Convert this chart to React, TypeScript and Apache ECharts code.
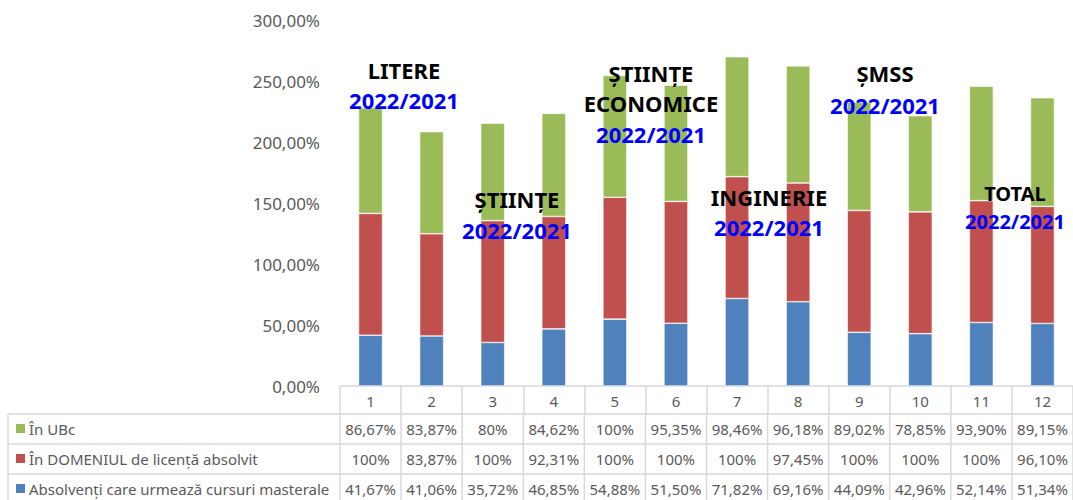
import { useEffect, useRef } from "react";
import * as echarts from "echarts";

const categories = ["1", "2", "3", "4", "5", "6", "7", "8", "9", "10", "11", "12"];
const nameMasterale = "Absolvenți care urmează cursuri masterale";
const nameDomeniu = "În DOMENIUL de licență absolvit";
const nameUbc = "În UBc";
const masterale = [41.67, 41.06, 35.72, 46.85, 54.88, 51.5, 71.82, 69.16, 44.09, 42.96, 52.14, 51.34];
const domeniu = [100, 83.87, 100, 92.31, 100, 100, 100, 97.45, 100, 100, 100, 96.1];
const ubc = [86.67, 83.87, 80, 84.62, 100, 95.35, 98.46, 96.18, 89.02, 78.85, 93.9, 89.15];
const yMin = 0;
const yMax = 300;
const yStep = 50;

const annotations = [
  { title: ["LITERE"], x: 404, titleY: [70], yearY: 100, size: 22 },
  { title: ["ȘTIINȚE"], x: 517, titleY: [199], yearY: 230, size: 22 },
  { title: ["ȘTIINȚE", "ECONOMICE"], x: 651, titleY: [73, 103], yearY: 134, size: 22 },
  { title: ["INGINERIE"], x: 769, titleY: [197], yearY: 227, size: 22 },
  { title: ["ȘMSS"], x: 885, titleY: [73], yearY: 105, size: 22 },
  { title: ["TOTAL"], x: 1015, titleY: [193], yearY: 221, size: 20 },
];
const yearText = "2022/2021";

const W = 1073;
const H = 500;
const GRID_LEFT = 340;
const GRID_TOP = 20.5;
const AXIS_Y = 386;
const TABLE_LEFT = 8;
const ROW_TOP = 414;
const ROW_H = 30;
const FONT = "'Noto Sans', 'Open Sans', sans-serif";
const GRAY = "#595959";
const LINE = "#D9D9D9";
const COLORS = { m: "#4F81BD", d: "#C0504D", u: "#9BBB59" };

function fmt(v: number) {
  return Number.isInteger(v) ? `${v}%` : `${v.toFixed(2).replace(".", ",")}%`;
}

export default function App() {
  const ref = useRef<HTMLDivElement>(null);
  useEffect(() => {
    if (!ref.current) return;
    const chart = echarts.init(ref.current, null, { renderer: "svg" });
    const colW = (W - GRID_LEFT) / categories.length;
    const rows = [
      { name: nameUbc, color: COLORS.u, values: ubc },
      { name: nameDomeniu, color: COLORS.d, values: domeniu },
      { name: nameMasterale, color: COLORS.m, values: masterale },
    ];
    const graphics: any[] = [];
    const bottom = ROW_TOP + rows.length * ROW_H;
    for (let r = 0; r <= rows.length; r++) {
      const y = ROW_TOP + r * ROW_H;
      graphics.push({
        type: "line",
        shape: { x1: TABLE_LEFT, y1: y, x2: W, y2: y },
        style: { stroke: LINE, lineWidth: 1.5 },
        silent: true,
      });
    }
    graphics.push({
      type: "line",
      shape: { x1: TABLE_LEFT, y1: ROW_TOP, x2: TABLE_LEFT, y2: bottom },
      style: { stroke: LINE, lineWidth: 1.5 },
    });
    for (let i = 0; i <= categories.length; i++) {
      const x = GRID_LEFT + i * colW;
      graphics.push({
        type: "line",
        shape: { x1: x, y1: ROW_TOP, x2: x, y2: bottom },
        style: { stroke: LINE, lineWidth: 1.5 },
      });
    }
    rows.forEach((row, r) => {
      const cy = ROW_TOP + r * ROW_H + ROW_H / 2;
      graphics.push({
        type: "rect",
        shape: { x: 16, y: cy - 5, width: 9, height: 9 },
        style: { fill: row.color },
      });
      graphics.push({
        type: "text",
        x: 29,
        y: cy,
        style: { text: row.name, fill: GRAY, font: `15px ${FONT}`, textAlign: "left", textVerticalAlign: "middle" },
      });
      row.values.forEach((v, i) => {
        graphics.push({
          type: "text",
          x: GRID_LEFT + (i + 0.5) * colW,
          y: cy,
          style: { text: fmt(v), fill: GRAY, font: `15px ${FONT}`, textAlign: "center", textVerticalAlign: "middle" },
        });
      });
    });
    annotations.forEach((a) => {
      a.title.forEach((t, k) => {
        graphics.push({
          type: "text",
          z: 100,
          x: a.x,
          y: a.titleY[k],
          style: { text: t, fill: "#000", font: `bold ${a.size}px ${FONT}`, textAlign: "center", textVerticalAlign: "middle" },
        });
      });
      graphics.push({
        type: "text",
        z: 100,
        x: a.x,
        y: a.yearY,
        style: { text: yearText, fill: "#0000FF", font: `bold ${a.size}px ${FONT}`, textAlign: "center", textVerticalAlign: "middle" },
      });
    });

    const barBase = {
      type: "bar",
      stack: "total",
      barWidth: 24,
      z: 2,
      itemStyle: { borderColor: "#ffffff", borderWidth: 0.6 },
    };
    chart.setOption({
      animation: false,
      grid: { left: GRID_LEFT, right: 0, top: GRID_TOP, bottom: H - AXIS_Y, containLabel: false },
      xAxis: {
        type: "category",
        data: categories,
        axisLine: { show: true, lineStyle: { color: LINE, width: 1.5 } },
        axisTick: { show: true, length: ROW_TOP - AXIS_Y, lineStyle: { color: LINE, width: 1.5 } },
        axisLabel: { color: GRAY, fontSize: 15, fontFamily: FONT, margin: 7 },
      },
      yAxis: {
        type: "value",
        min: yMin,
        max: yMax,
        interval: yStep,
        axisLine: { show: false },
        axisTick: { show: false },
        splitLine: { show: false },
        axisLabel: {
          color: GRAY,
          fontSize: 17,
          fontFamily: FONT,
          margin: 20,
          formatter: (v: number) => `${v.toFixed(2).replace(".", ",")}%`,
        },
      },
      series: [
        { ...barBase, name: nameMasterale, data: masterale, itemStyle: { ...barBase.itemStyle, color: COLORS.m } },
        { ...barBase, name: nameDomeniu, data: domeniu, itemStyle: { ...barBase.itemStyle, color: COLORS.d } },
        { ...barBase, name: nameUbc, data: ubc, itemStyle: { ...barBase.itemStyle, color: COLORS.u } },
      ],
      graphic: { elements: graphics },
    });
    return () => chart.dispose();
  }, []);
  return <div ref={ref} style={{ position: "fixed", left: 0, top: 0, width: W, height: H, background: "#fff" }} />;
}
